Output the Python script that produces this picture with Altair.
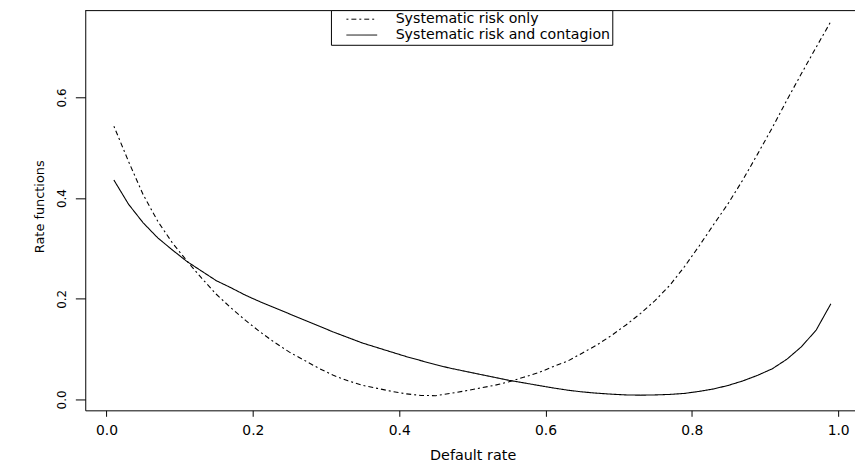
import altair as alt
import pandas as pd

rate = [0.01, 0.03, 0.05, 0.07, 0.09, 0.11, 0.13, 0.15, 0.17, 0.19,
        0.21, 0.23, 0.25, 0.27, 0.29, 0.31, 0.33, 0.35, 0.37, 0.39,
        0.41, 0.43, 0.45, 0.47, 0.49, 0.51, 0.53, 0.55, 0.57, 0.59,
        0.61, 0.63, 0.65, 0.67, 0.69, 0.71, 0.73, 0.75, 0.77, 0.79,
        0.81, 0.83, 0.85, 0.87, 0.89, 0.91, 0.93, 0.95, 0.97, 0.99]

sys_only = [0.543, 0.473, 0.407, 0.354, 0.311, 0.275, 0.241, 0.209, 0.182, 0.157,
            0.134, 0.113, 0.094, 0.078, 0.062, 0.048, 0.037, 0.028, 0.022, 0.016,
            0.011, 0.008, 0.0075, 0.012, 0.017, 0.0225, 0.028, 0.035, 0.044, 0.053,
            0.065, 0.076, 0.092, 0.108, 0.127, 0.148, 0.171, 0.197, 0.227, 0.264,
            0.305, 0.348, 0.390, 0.437, 0.488, 0.540, 0.595, 0.648, 0.700, 0.751]

sys_cont = [0.436, 0.388, 0.351, 0.321, 0.297, 0.274, 0.255, 0.236, 0.222, 0.207,
            0.194, 0.182, 0.170, 0.158, 0.146, 0.134, 0.123, 0.112, 0.103, 0.094,
            0.085, 0.077, 0.069, 0.062, 0.056, 0.050, 0.044, 0.038, 0.033, 0.028,
            0.023, 0.0185, 0.015, 0.0125, 0.0105, 0.009, 0.0085, 0.009, 0.010, 0.012,
            0.016, 0.021, 0.028, 0.037, 0.048, 0.061, 0.080, 0.105, 0.138, 0.190]

series_names = ["Systematic risk only", "Systematic risk and contagion"]
x_ticks = [0.0, 0.2, 0.4, 0.6, 0.8, 1.0]
y_ticks = [0.0, 0.2, 0.4, 0.6]

df = pd.DataFrame({
    "rate": rate + rate,
    "value": sys_only + sys_cont,
    "series": [series_names[0]] * len(rate) + [series_names[1]] * len(rate),
})

W, H = 777, 404
FONT = "DejaVu Sans"

lines = alt.Chart(df).mark_line(color="black", strokeWidth=1.1).encode(
    x=alt.X("rate:Q",
            scale=alt.Scale(domain=[-0.02911, 1.02302], nice=False, zero=False),
            axis=alt.Axis(values=x_ticks, format=".1f", title="Default rate", grid=False,
                          tickSize=6, labelPadding=14, labelBaseline="middle",
                          labelFontSize=14, titleX=391, titleY=46, titleBaseline="middle",
                          titleFontSize=14.5)),
    y=alt.Y("value:Q",
            scale=alt.Scale(domain=[-0.02165, 0.77362], nice=False, zero=False),
            axis=alt.Axis(values=y_ticks, format=".1f", title="Rate functions", grid=False,
                          tickSize=10, labelPadding=14, labelAngle=270, labelAlign="center",
                          labelBaseline="middle", labelFontSize=12,
                          titleAngle=270, titleX=-46, titleY=198, titleAlign="center",
                          titleBaseline="middle", titleFontSize=13)),
    strokeDash=alt.StrokeDash("series:N",
                              scale=alt.Scale(domain=series_names, range=[[2, 3, 5, 3], [1, 0]]),
                              legend=alt.Legend(title=None, orient="none", legendX=248, legendY=0,
                                                padding=2, symbolOffset=22, labelOffset=27,
                                                symbolType="M-3,0H3", symbolSize=107,
                                                symbolStrokeWidth=1, symbolStrokeColor="black",
                                                symbolFillColor="transparent",
                                                labelFont=FONT, labelFontSize=14.3, labelColor="black",
                                                labelLimit=400,
                                                strokeColor="black", fillColor="white",
                                                rowPadding=1)),
)

frame = pd.DataFrame({"edge": ["top"]})
top_border = alt.Chart(frame).mark_rule(color="black", strokeWidth=1).encode(
    x=alt.value(0), x2=alt.value(W), y=alt.value(0.5)
)

chart = alt.layer(lines, top_border).properties(
    width=W, height=H,
    padding={"left": 78, "top": 0, "right": 0, "bottom": 50},
    autosize=alt.AutoSizeParams(type="none"),
).configure_view(strokeWidth=0).configure_axis(
    labelFont=FONT, titleFont=FONT, labelColor="black", titleColor="black",
    titleFontWeight="normal", domainColor="black", tickColor="black",
    domainWidth=1, tickWidth=1,
)

chart.save("out.html", embed_options={"renderer": "svg", "actions": False})
